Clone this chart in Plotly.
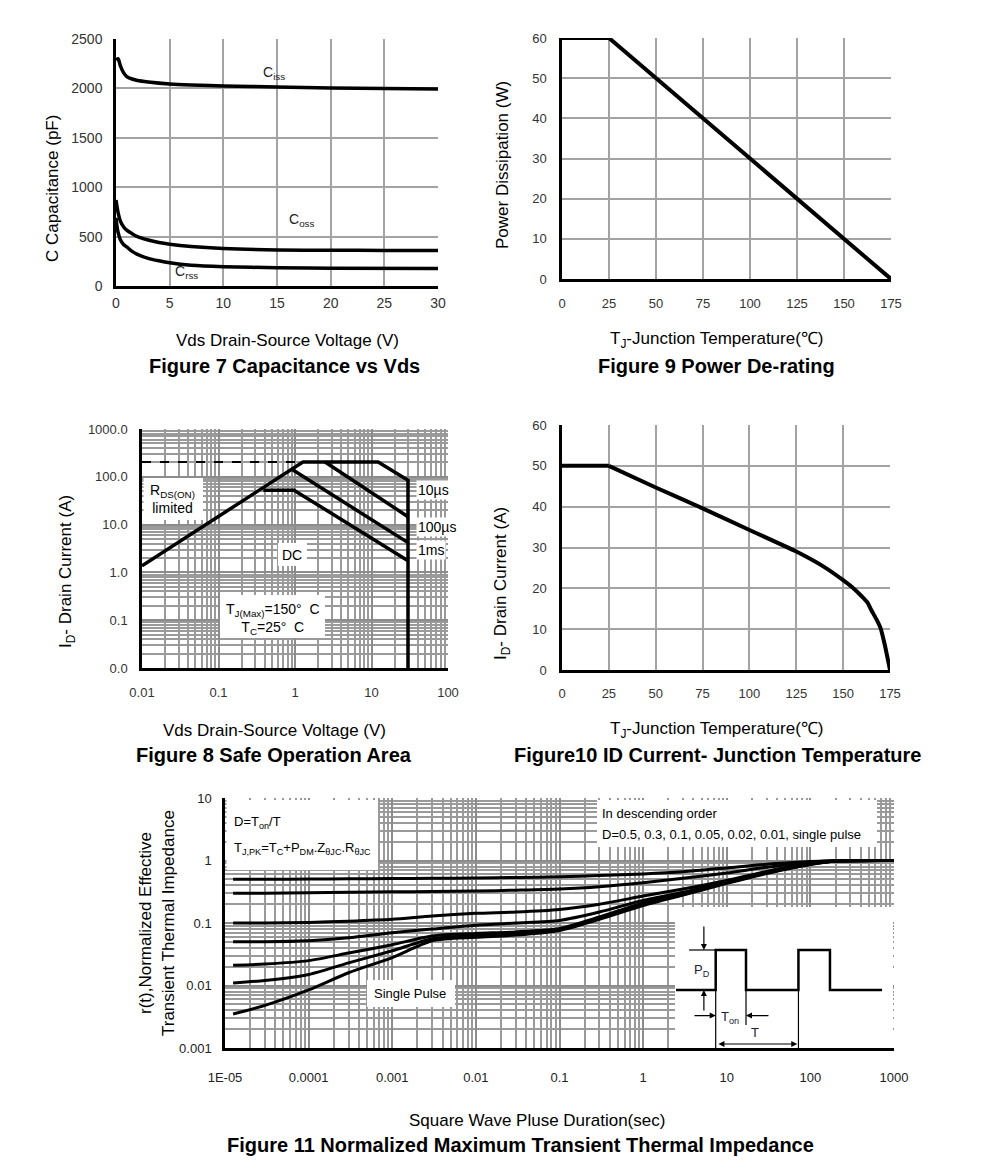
import plotly.graph_objects as go

W, H = 991, 1173
OFF = 8  # default page body margin of the written html
FONT = "Liberation Sans, Arial, sans-serif"
NARROW = "Liberation Sans Narrow, Arial Narrow, Liberation Sans, Arial, sans-serif"

# ---------------- Figure 7: Capacitance vs Vds ----------------
cap_vds_iss = [0, 0.2, 0.4, 0.7, 1, 1.5, 2, 3, 5, 7, 10, 15, 20, 25, 30]
ciss = [2290, 2300, 2230, 2160, 2120, 2095, 2080, 2065, 2045, 2035, 2025, 2015, 2005, 2000, 1995]
cap_vds_oss = [0, 0.1, 0.2, 0.4, 0.7, 1, 1.5, 2, 3, 4, 5, 7, 10, 15, 20, 25, 30]
coss = [870, 800, 740, 660, 600, 565, 530, 500, 465, 440, 423, 400, 380, 365, 362, 360, 360]
cap_vds_rss = [0, 0.1, 0.2, 0.4, 0.7, 1, 1.5, 2, 3, 4, 5, 7, 10, 15, 20, 30]
crss = [690, 600, 540, 470, 420, 395, 350, 320, 280, 255, 235, 210, 195, 185, 180, 178]
cap_x_ticks = [0, 5, 10, 15, 20, 25, 30]
cap_y_ticks = [0, 500, 1000, 1500, 2000, 2500]
cap_labels = ["C<sub>iss</sub>", "C<sub>oss</sub>", "C<sub>rss</sub>"]
cap_label_x = [13.5, 15.9, 5.3]
cap_label_y = [2157, 666, 139]

# ---------------- Figure 9: Power De-rating ----------------
pd_temp = [0, 25, 175]
pd_watt = [60, 60, 0]
temp_ticks = [0, 25, 50, 75, 100, 125, 150, 175]
pd_y_ticks = [0, 10, 20, 30, 40, 50, 60]

# ---------------- Figure 8: Safe Operation Area ----------------
soa_dash_v = [0.01, 1.27]
soa_dash_i = [204, 204]
soa_env_v = [0.01, 1.27, 12.2, 30, 30]
soa_env_i = [1.38, 204, 204, 85, 0.01]
soa_10us_v = [2.47, 30]
soa_10us_i = [204, 14.6]
soa_100us_v = [0.93, 30]
soa_100us_i = [140, 4.2]
soa_1ms_v = [0.385, 0.97, 30]
soa_1ms_i = [52.5, 52.5, 1.76]
soa_x_ticks = [0.01, 0.1, 1, 10, 100]
soa_x_text = ["0.01", "0.1", "1", "10", "100"]
soa_y_ticks = [0.01, 0.1, 1, 10, 100, 1000]
soa_y_text = ["0.0", "0.1", "1.0", "10.0", "100.0", "1000.0"]

# ---------------- Figure 10: ID vs Junction Temperature ----------------
id_temp = [0, 25, 50, 75, 100, 125, 140, 150, 155, 160, 163, 165, 168, 170, 172, 175]
id_amp = [50, 50, 44.7, 39.6, 34.3, 29, 25.2, 22, 20.2, 18, 16.5, 14.7, 12.2, 10.2, 6.6, 0]
id_y_ticks = [0, 10, 20, 30, 40, 50, 60]

# ---------------- Figure 11: Transient Thermal Impedance ----------------
zth_t = [1.25e-5, 3e-5, 1e-4, 3e-4, 1e-3, 3e-3, 1e-2, 3e-2, 0.1, 0.3, 1, 3, 10, 30, 100, 200, 1000]
zth_d05 = [0.50, 0.50, 0.505, 0.51, 0.515, 0.52, 0.525, 0.535, 0.55, 0.575, 0.61, 0.66, 0.76, 0.87, 0.96, 1.0, 1.0]
zth_d03 = [0.30, 0.30, 0.305, 0.31, 0.315, 0.32, 0.325, 0.335, 0.35, 0.38, 0.44, 0.52, 0.63, 0.78, 0.94, 0.99, 1.0]
zth_d01 = [0.10, 0.10, 0.102, 0.107, 0.115, 0.13, 0.143, 0.150, 0.165, 0.20, 0.27, 0.35, 0.48, 0.67, 0.90, 0.98, 1.0]
zth_d005 = [0.05, 0.05, 0.052, 0.058, 0.07, 0.08, 0.092, 0.10, 0.11, 0.15, 0.23, 0.31, 0.46, 0.65, 0.89, 0.98, 1.0]
zth_d002 = [0.021, 0.022, 0.025, 0.033, 0.045, 0.062, 0.068, 0.072, 0.082, 0.125, 0.21, 0.29, 0.45, 0.64, 0.88, 0.98, 1.0]
zth_d001 = [0.011, 0.012, 0.015, 0.023, 0.036, 0.056, 0.063, 0.068, 0.079, 0.12, 0.20, 0.285, 0.44, 0.63, 0.87, 0.98, 1.0]
zth_single = [0.0035, 0.0048, 0.0085, 0.016, 0.028, 0.052, 0.059, 0.064, 0.076, 0.115, 0.19, 0.28, 0.43, 0.62, 0.86, 0.98, 1.0]
zth_x_ticks = [1e-5, 1e-4, 1e-3, 1e-2, 0.1, 1, 10, 100, 1000]
zth_x_text = ["1E-05", "0.0001", "0.001", "0.01", "0.1", "1", "10", "100", "1000"]
zth_y_ticks = [0.001, 0.01, 0.1, 1, 10]
zth_y_text = ["0.001", "0.01", "0.1", "1", "10"]

# inset pulse schematic (arbitrary units: Ton = 1)
wave_t = [0, 1.31, 1.31, 2.31, 2.31, 4.04, 4.04, 5.08, 5.08, 6.8]
wave_p = [0, 0, 1, 1, 0, 0, 1, 1, 0, 0]

# ---------------- helpers ----------------
def fx(p):
    return (p - OFF) / W

def fy(p):
    return 1 - (p - OFF) / H

def lin_axis(**kw):
    d = dict(showgrid=True, gridcolor="#a3a3a3", gridwidth=2, zeroline=False,
             showline=True, linecolor="black", linewidth=2.5, ticks="", automargin=False,
             tickfont=dict(family=FONT, size=13, color="#333"), fixedrange=True)
    d.update(kw)
    return d

def minor_vals(lo, hi):
    vals = []
    for d in range(lo, hi):
        for k in range(2, 10):
            vals.append(k * 10 ** d)
    return vals

def log_axis(lo, hi, **kw):
    d = dict(type="log", showgrid=True, gridcolor="#8c8c8c", gridwidth=2, zeroline=False,
             showline=True, linecolor="black", linewidth=2.5, ticks="", automargin=False,
             minor=dict(tickmode="array", tickvals=minor_vals(lo, hi), showgrid=True,
                        gridcolor="#9a9a9a", gridwidth=1.5, ticks=""),
             tickfont=dict(family=FONT, size=13, color="#333"), fixedrange=True)
    d.update(kw)
    return d

# pixel box -> polygon in log-log data units of a subplot (white label backgrounds)
def log_box(x0, x1, y0, y1, ax_px, ax_dec, ay_px, ay_dec):
    def cx(p):
        return 10 ** (ax_dec[0] + (p - ax_px[0]) / (ax_px[1] - ax_px[0]) * (ax_dec[1] - ax_dec[0]))
    def cy(p):
        return 10 ** (ay_dec[0] + (ay_px[0] - p) / (ay_px[0] - ay_px[1]) * (ay_dec[1] - ay_dec[0]))
    xs = [cx(x0), cx(x1), cx(x1), cx(x0), cx(x0)]
    ys = [cy(y0), cy(y0), cy(y1), cy(y1), cy(y0)]
    return xs, ys

fig = go.Figure()

# white background boxes (drawn first: above grid, below curves)
SOA_AX = ((142, 448), (-2, 2), (668, 429), (-2, 3))
ZTH_AX = ((225, 894), (-5, 3), (1048, 798), (-3, 1))
soa_boxes = [(143.5, 203, 478, 520), (220, 325, 595, 638), (278, 307, 543, 566)]
zth_boxes = [(226.5, 378, 800, 870), (597, 877, 800, 847), (367, 455, 980, 1007), (675, 893, 907, 1046.5)]
for b in soa_boxes:
    xs, ys = log_box(*b, *SOA_AX)
    fig.add_trace(go.Scatter(x=xs, y=ys, mode="lines", fill="toself", fillcolor="white",
                             line=dict(width=0, color="white"), hoverinfo="skip", xaxis="x3", yaxis="y3"))
for b in zth_boxes:
    xs, ys = log_box(*b, *ZTH_AX)
    fig.add_trace(go.Scatter(x=xs, y=ys, mode="lines", fill="toself", fillcolor="white",
                             line=dict(width=0, color="white"), hoverinfo="skip", xaxis="x5", yaxis="y5"))

# Fig 7 traces
for xs, ys in [(cap_vds_iss, ciss), (cap_vds_oss, coss), (cap_vds_rss, crss)]:
    fig.add_trace(go.Scatter(x=xs, y=ys, mode="lines",
                             line=dict(color="black", width=3.5, shape="spline", smoothing=0.8),
                             xaxis="x", yaxis="y"))

# Fig 9
fig.add_trace(go.Scatter(x=pd_temp, y=pd_watt, mode="lines", line=dict(color="black", width=4), xaxis="x2", yaxis="y2"))

# Fig 8
fig.add_trace(go.Scatter(x=soa_dash_v, y=soa_dash_i, mode="lines", line=dict(color="black", width=2, dash="dash"), xaxis="x3", yaxis="y3"))
for xs, ys in [(soa_env_v, soa_env_i), (soa_10us_v, soa_10us_i), (soa_100us_v, soa_100us_i), (soa_1ms_v, soa_1ms_i)]:
    fig.add_trace(go.Scatter(x=xs, y=ys, mode="lines", line=dict(color="black", width=3.5), xaxis="x3", yaxis="y3"))

# Fig 10: flat part straight, derating part smoothed
fig.add_trace(go.Scatter(x=id_temp[:2], y=id_amp[:2], mode="lines", line=dict(color="black", width=4), xaxis="x4", yaxis="y4"))
fig.add_trace(go.Scatter(x=id_temp[1:], y=id_amp[1:], mode="lines",
                         line=dict(color="black", width=4, shape="spline", smoothing=0.6), xaxis="x4", yaxis="y4"))

# Fig 11
for ys in [zth_d05, zth_d03, zth_d01, zth_d005, zth_d002, zth_d001, zth_single]:
    fig.add_trace(go.Scatter(x=zth_t, y=ys, mode="lines", line=dict(color="black", width=3, shape="spline", smoothing=0.7), xaxis="x5", yaxis="y5"))

# inset waveform
fig.add_trace(go.Scatter(x=wave_t, y=wave_p, mode="lines", line=dict(color="black", width=2.5), xaxis="x6", yaxis="y6"))
inset_lines = [([0.43, 1.31], [1, 1]), ([1.31, 1.31], [0, -1.45]), ([2.31, 2.31], [0, -0.875]), ([4.04, 4.04], [0, -1.45])]
for xs, ys in inset_lines:
    fig.add_trace(go.Scatter(x=xs, y=ys, mode="lines", line=dict(color="black", width=1.2), xaxis="x6", yaxis="y6"))

# ---------------- layout axes ----------------
lay = dict(
    width=W, height=H, autosize=False,
    margin=dict(l=0, r=0, t=0, b=0, pad=0, autoexpand=False), showlegend=False,
    paper_bgcolor="white", plot_bgcolor="white",
    xaxis=lin_axis(domain=[fx(116), fx(438)], range=[0, 30], tickvals=cap_x_ticks, anchor="y",
                   ticklabelstandoff=2, tickfont=dict(family=FONT, size=14, color="#333")),
    yaxis=lin_axis(domain=[fy(286), fy(39)], range=[0, 2500], tickvals=cap_y_ticks, anchor="x",
                   ticklabelstandoff=8, tickfont=dict(family=FONT, size=14, color="#333")),
    xaxis2=lin_axis(domain=[fx(562), fx(891)], range=[0, 175], tickvals=temp_ticks, anchor="y2",
                    ticklabelstandoff=11),
    yaxis2=lin_axis(domain=[fy(279), fy(38)], range=[0, 60], tickvals=pd_y_ticks, anchor="x2",
                    ticklabelstandoff=10),
    xaxis3=log_axis(-2, 2, domain=[fx(142), fx(448)], range=[-2, 2], tickvals=soa_x_ticks,
                    ticktext=soa_x_text, anchor="y3", ticklabelstandoff=11),
    yaxis3=log_axis(-2, 3, domain=[fy(668), fy(429)], range=[-2, 3], tickvals=soa_y_ticks,
                    ticktext=soa_y_text, anchor="x3", ticklabelstandoff=9),
    xaxis4=lin_axis(domain=[fx(562), fx(890)], range=[0, 175], tickvals=temp_ticks, anchor="y4",
                    ticklabelstandoff=10),
    yaxis4=lin_axis(domain=[fy(670), fy(425)], range=[0, 60], tickvals=id_y_ticks, anchor="x4",
                    ticklabelstandoff=10),
    xaxis5=log_axis(-5, 3, domain=[fx(225), fx(894)], range=[-5, 3], tickvals=zth_x_ticks,
                    ticktext=zth_x_text, anchor="y5", ticklabelstandoff=16,
                    tickfont=dict(family=NARROW, size=13, color="#222")),
    yaxis5=log_axis(-3, 1, domain=[fy(1048), fy(798)], range=[-3, 1], tickvals=zth_y_ticks,
                    ticktext=zth_y_text, anchor="x5", ticklabelstandoff=8,
                    tickfont=dict(family=NARROW, size=13, color="#222")),
    xaxis6=dict(domain=[fx(675), fx(893)], range=[-0.033, 7.16], visible=False, anchor="y6",
                fixedrange=True, automargin=False),
    yaxis6=dict(domain=[fy(1048), fy(907)], range=[-1.45, 2.075], visible=False, anchor="x6",
                fixedrange=True, automargin=False),
)
fig.update_layout(**lay)

# ---------------- annotations ----------------
ann = []

def ptext(x, y, text, size=17, bold=False, angle=0, xanchor="center", family=FONT, color="black"):
    t = f"<b>{text}</b>" if bold else text
    ann.append(dict(xref="paper", yref="paper", x=fx(x), y=fy(y), text=t, showarrow=False,
                    xanchor=xanchor, yanchor="middle", textangle=angle,
                    font=dict(family=family, size=size, color=color)))

# Fig 7
ptext(287, 340, "Vds Drain-Source Voltage (V)")
ptext(284, 366, "Figure 7 Capacitance vs Vds", size=20, bold=True)
ptext(53, 189, "C Capacitance (pF)", angle=-90)
for txt, lx, ly in zip(cap_labels, cap_label_x, cap_label_y):
    ann.append(dict(xref="x", yref="y", x=lx, y=ly, text=txt, showarrow=False, xanchor="left",
                    yanchor="middle", font=dict(family=FONT, size=14, color="#222")))
# Fig 9
ptext(717, 340, "T<sub>J</sub>-Junction Temperature(℃)")
ptext(716, 366, "Figure 9 Power De-rating", size=20, bold=True)
ptext(502, 165, "Power Dissipation (W)", angle=-90)
# Fig 8
ptext(274, 730, "Vds Drain-Source Voltage (V)")
ptext(274, 755, "Figure 8 Safe Operation Area", size=20, bold=True)
ptext(67, 572, "I<sub>D</sub>- Drain Current (A)", angle=-90)
ptext(148, 499, "R<sub>DS(ON)</sub><br>limited", size=14, xanchor="left")
ptext(292, 555, "DC", size=14)
ptext(224, 619, "T<sub>J(Max)</sub>=150°  C<br>T<sub>C</sub>=25°  C", size=14, xanchor="left")
for txt, yy in [("10µs", 490), ("100µs", 527), ("1ms", 550)]:
    ann.append(dict(xref="paper", yref="paper", x=fx(416), y=fy(yy), text=txt, showarrow=False,
                    xanchor="left", yanchor="middle", bgcolor="white", borderpad=1,
                    font=dict(family=FONT, size=14, color="black")))
# Fig 10
ptext(717, 730, "T<sub>J</sub>-Junction Temperature(℃)")
ptext(717, 755, "Figure10 ID Current- Junction Temperature", size=20, bold=True)
ptext(502, 584, "I<sub>D</sub>- Drain Current (A)", angle=-90)
# Fig 11
ptext(537, 1120, "Square Wave Pluse Duration(sec)", size=17, family=NARROW)
ptext(520, 1145, "Figure 11 Normalized Maximum Transient Thermal Impedance", size=20, bold=True)
ptext(145, 923, "r(t),Normalized Effective", angle=-90, size=17)
ptext(168, 923, "Transient Thermal Impedance", angle=-90, size=17)
ptext(232, 822, "D=T<sub>on</sub>/T", size=13, xanchor="left", family=NARROW)
ptext(232, 848, "T<sub>J,PK</sub>=T<sub>C</sub>+P<sub>DM</sub>.Z<sub>θJC</sub>.R<sub>θJC</sub>", size=13, xanchor="left", family=NARROW)
ptext(600, 813, "In descending order", size=13, xanchor="left", family=NARROW)
ptext(600, 834, "D=0.5, 0.3, 0.1, 0.05, 0.02, 0.01, single pulse", size=13, xanchor="left", family=NARROW)
ptext(410, 993, "Single Pulse", size=13, family=NARROW)

# inset annotations (in inset units)
def iarrow(x, y, ax, ay, side="end"):
    ann.append(dict(xref="x6", yref="y6", x=x, y=y, ax=ax, ay=ay, axref="x6", ayref="y6",
                    text="", showarrow=True, arrowhead=2, arrowsize=1, arrowwidth=1.2,
                    arrowside=side, arrowcolor="black"))

iarrow(0.92, 1.0, 0.92, 1.625)
iarrow(0.92, 0.0, 0.92, -0.55)
iarrow(1.31, -0.64, 0.56, -0.64)
iarrow(2.31, -0.64, 3.1, -0.64)
iarrow(4.0, -1.35, 1.35, -1.35, side="end+start")
for txt, x, y in [("P<sub>D</sub>", 0.86, 0.5), ("T<sub>on</sub>", 1.78, -0.68), ("T", 2.6, -1.05)]:
    ann.append(dict(xref="x6", yref="y6", x=x, y=y, text=txt, showarrow=False,
                    font=dict(family=FONT, size=13, color="#223")))

fig.update_layout(annotations=ann)
fig.write_html("out.html")
